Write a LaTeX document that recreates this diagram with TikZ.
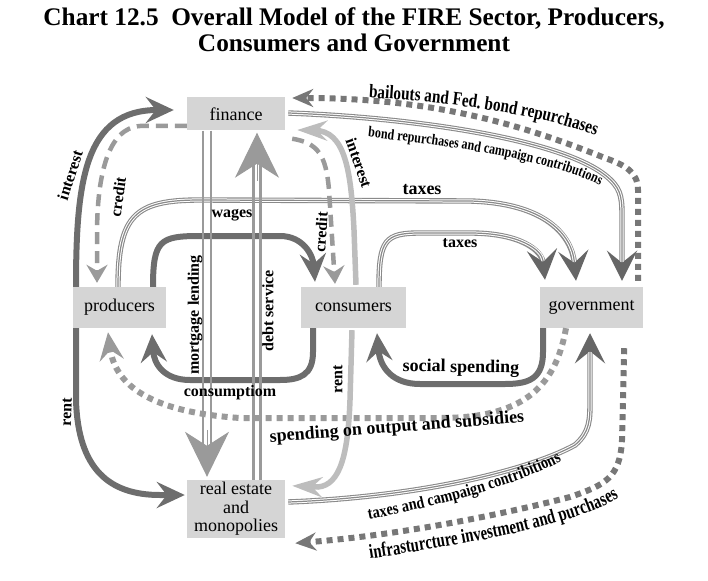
\documentclass[tikz,border=0pt]{standalone}
\usepackage{fontspec}
\setmainfont{Liberation Serif}
\newfontfamily\condA{Liberation Serif}[FakeStretch=0.74]
\newfontfamily\condB{Liberation Serif}[FakeStretch=0.80]
\newfontfamily\condC{Liberation Serif}[FakeStretch=0.84]
\newcommand\bailfont{\condB\bfseries\fontsize{19}{20}\selectfont}
\newcommand\bondfont{\condB\bfseries\fontsize{15}{16}\selectfont}
\newcommand\tccfont{\condC\bfseries\fontsize{17}{18}\selectfont}
\newcommand\infrafont{\condA\bfseries\fontsize{20}{21}\selectfont}
\usetikzlibrary{arrows.meta,calc,decorations.text}
\definecolor{boxgray}{HTML}{D5D5D5}
\definecolor{dk}{HTML}{6D6D6D}
\definecolor{md}{HTML}{9A9A9A}
\definecolor{lt}{HTML}{BDBDBD}
\definecolor{dotdk}{HTML}{777777}
\definecolor{trip}{HTML}{8A8A8A}
\definecolor{tiphd}{HTML}{666666}
\begin{document}
\begin{tikzpicture}[x=1pt,y=-1pt,
  box/.style={fill=boxgray, inner sep=0pt, font=\fontsize{18}{18.5}\selectfont},
  lab/.style={font=\bfseries\fontsize{16}{17}\selectfont, inner sep=0pt},
  labbig/.style={font=\bfseries\fontsize{18}{19}\selectfont, inner sep=0pt},
  thickarr/.style={draw=dk, line width=6pt, -{Stealth[length=28pt,width=26pt,inset=10pt]}},
  ltarr/.style={draw=lt, line width=5.5pt, -{Stealth[length=30pt,width=20pt,inset=10pt]}},
  dasharr/.style={draw=md, line width=4.5pt, dash pattern=on 12pt off 7pt, -{Stealth[length=18pt,width=21pt,inset=6pt]}},
  dotarr/.style={draw=dotdk, line width=6pt, dash pattern=on 6pt off 5pt, -{Stealth[length=21pt,width=18pt,inset=7pt]}},
  spdot/.style={draw=md, line width=6pt, dash pattern=on 6pt off 5pt, -{Stealth[length=28pt,width=24pt,inset=10pt]}},
  triple/.style={draw=trip, line width=5.4pt, -{Stealth[length=30pt,width=30pt,inset=12pt,color=tiphd]},
    postaction={draw=white, line width=3.2pt, -, shorten >=19pt},
    postaction={draw=trip, line width=1.2pt, -, shorten >=19pt}},
  dblline/.style={draw=md, line width=2.3pt},
  dbltip/.style={draw=md, line width=1pt, -{Stealth[length=45pt,width=44pt,inset=14pt]}},
  curvlab/.style={decorate, decoration={text along path, text align=center, text={#1}}}
]
\useasboundingbox (0,0) rectangle (708,580);

% title
\node[font=\bfseries\fontsize{25.3}{26}\selectfont, align=center, inner sep=0pt] (title) at (354,30)
  {Chart 12.5\ \ Overall Model of the FIRE Sector, Producers,\\Consumers and Government};

% nodes
\node[box, minimum width=98pt, minimum height=33pt] (finance) at (236,114) {finance};
\node[box, minimum width=93pt, minimum height=41pt] (producers) at (119.5,307.5) {producers};
\node[box, minimum width=105pt, minimum height=41pt] (consumers) at (353.5,307.5) {consumers};
\node[box, minimum width=103pt, minimum height=41pt] (government) at (591.5,307.5) {government};
\node[box, minimum width=98pt, minimum height=58pt, align=center] (realestate) at (236,509) {real estate\\and\\monopolies};

% triple lines
\draw[triple] (118,0 |- producers.north) .. controls (118,215) and (135,200) .. (200,200) -- (470,201)
  .. controls (545,203) and (572,235) .. ($(576,0 |- government.north)+(0,-6)$);
\draw[triple] (379,0 |- consumers.north) .. controls (379,240) and (385,233) .. (420,233) -- (470,233)
  .. controls (520,233) and (542,250) .. ($(545,0 |- government.north)+(0,-7)$);
\draw[triple] ($(finance.east)+(3,-1)$) .. controls (420,118) and (560,140) .. (605,175)
  .. controls (620,187) and (622,195) .. (622,215) -- ($(622,0 |- government.north)+(0,-6)$);
\draw[triple] ($(realestate.east)+(3,-7)$) .. controls (420,497) and (530,470) .. (575,445)
  .. controls (590,432) and (590,420) .. (590,400) -- ($(590,0 |- government.south)+(0,5)$);

% dotted lines
\draw[dotarr] ($(638,0 |- government.north)+(0,-6)$) -- (638,190) .. controls (638,172) and (625,165) .. (605,158)
  .. controls (530,128) and (440,98) .. ($(finance.east)+(7,-16)$);
\draw[dotarr] ($(government.south east)+(-19,20)$) -- (622,440) .. controls (620,478) and (605,485) .. (570,497)
  .. controls (500,515) and (400,535) .. ($(realestate.south east)+(10,5)$);
\draw[spdot] (566,0 |- government.south) .. controls (555,390) and (520,418) .. (440,418) -- (240,418)
  .. controls (150,412) and (115,385) .. ($(108,0 |- producers.south)+(0,4)$);

% thick dark lines
\draw[thickarr] (76,0 |- producers.north) .. controls (76,180) and (85,110) .. ($(finance.west)+(-13,-4)$);
\draw[thickarr] (153,0 |- producers.north) .. controls (153,240) and (160,236) .. (200,236) -- (280,236)
  .. controls (303,236) and (313,255) .. ($(315,0 |- consumers.north)+(0,-5)$);
\draw[thickarr] (313,0 |- consumers.south) -- (313,352) .. controls (313,375) and (300,380) .. (280,380) -- (190,380)
  .. controls (165,380) and (154,365) .. ($(152,0 |- producers.south)+(0,6)$);
\draw[thickarr] (543,0 |- government.south) -- (543,352) .. controls (543,378) and (530,384) .. (505,384) -- (420,384)
  .. controls (393,384) and (380,368) .. ($(377,0 |- consumers.south)+(0,5)$);
\draw[thickarr] (76,0 |- producers.south) -- (76,400) .. controls (78,470) and (110,495) .. (160,495)
  -- ($(realestate.west)+(-2,-14)$);

% light gray lines
\draw[ltarr] ($(356,0 |- consumers.north)+(0,-2)$) -- (354,230) .. controls (351,170) and (345,131) .. ($(finance.east)+(12,16)$);
\draw[ltarr] ($(352,0 |- consumers.south)+(0,2)$) -- (350,400) .. controls (348,455) and (340,485) .. (318,487)
  -- ($(realestate.north east)+(7,6)$);

% dashed credit
\draw[dasharr] ($(finance.west)+(0,12)$) -- (140,126) .. controls (108,128) and (97,175) .. (97,235)
  -- ($(97,0 |- producers.north)+(0,-4)$);
\draw[dasharr] ($(finance.south east)+(7,8)$) .. controls (318,143) and (326,155) .. (329,190)
  -- ($(335,0 |- consumers.north)+(0,-3)$);

% double lines
\draw[dblline] ($(finance.south)+(-32.7,0)$) -- ($(realestate.north)+(-32.7,-20)$);
\draw[dblline] ($(finance.south)+(-25.3,0)$) -- ($(realestate.north)+(-25.3,-20)$);
\draw[dbltip] ($(realestate.north)+(-29,-50)$) -- ($(realestate.north)+(-29,-3)$);
\draw[dblline] ($(realestate.north)+(17.5,0)$) -- ($(finance.south)+(17.5,25)$);
\draw[dblline] ($(realestate.north)+(24.5,0)$) -- ($(finance.south)+(24.5,25)$);
\draw[dbltip] ($(finance.south)+(21,50)$) -- ($(finance.south)+(21,2)$);

% labels
\node[lab, rotate=72] (lint1) at (70,175) {interest};
\node[lab, rotate=82] (lcr1) at (118,197) {credit};
\node[lab] (lwages) at (232,215) {wages};
\node[labbig] (ltax1) at (422,190) {taxes};
\node[lab] (ltax2) at (460,243) {taxes};
\node[lab, rotate=86] (lcr2) at (321,232) {credit};
\node[lab, rotate=-71] (lint2) at (359,163) {interest};
\node[lab, rotate=90] (lmort) at (195,315) {mortgage lending};
\node[lab, rotate=90] (ldebt) at (268,311) {debt service};
\node[lab] (lcons) at (230,393) {consumptiom};
\node[labbig, rotate=4.5] (lspend) at (397,428) {spending on output and subsidies};
\node[labbig, rotate=-1] (lsoc) at (461,368) {social spending};
\node[lab, rotate=88] (lrent1) at (67,412) {rent};
\node[lab, rotate=90] (lrent2) at (338,379) {rent};

% curved labels
\path[curvlab={|\bailfont|bailouts and Fed. bond repurchases}] (360,97) .. controls (450,102) and (542,114) .. (604,139);
\path[curvlab={|\bondfont|bond repurchases and campaign contributions}] (352,135) .. controls (450,146) and (562,160) .. (614,193);
\path[curvlab={|\tccfont|taxes and campaign contribitions}] (355,522) .. controls (430,508) and (522,486) .. (574,454);
\path[curvlab={|\infrafont|infrasturcture investment and purchases}] (362,560) .. controls (450,546) and (568,530) .. (626,494);
\end{tikzpicture}
\end{document}
